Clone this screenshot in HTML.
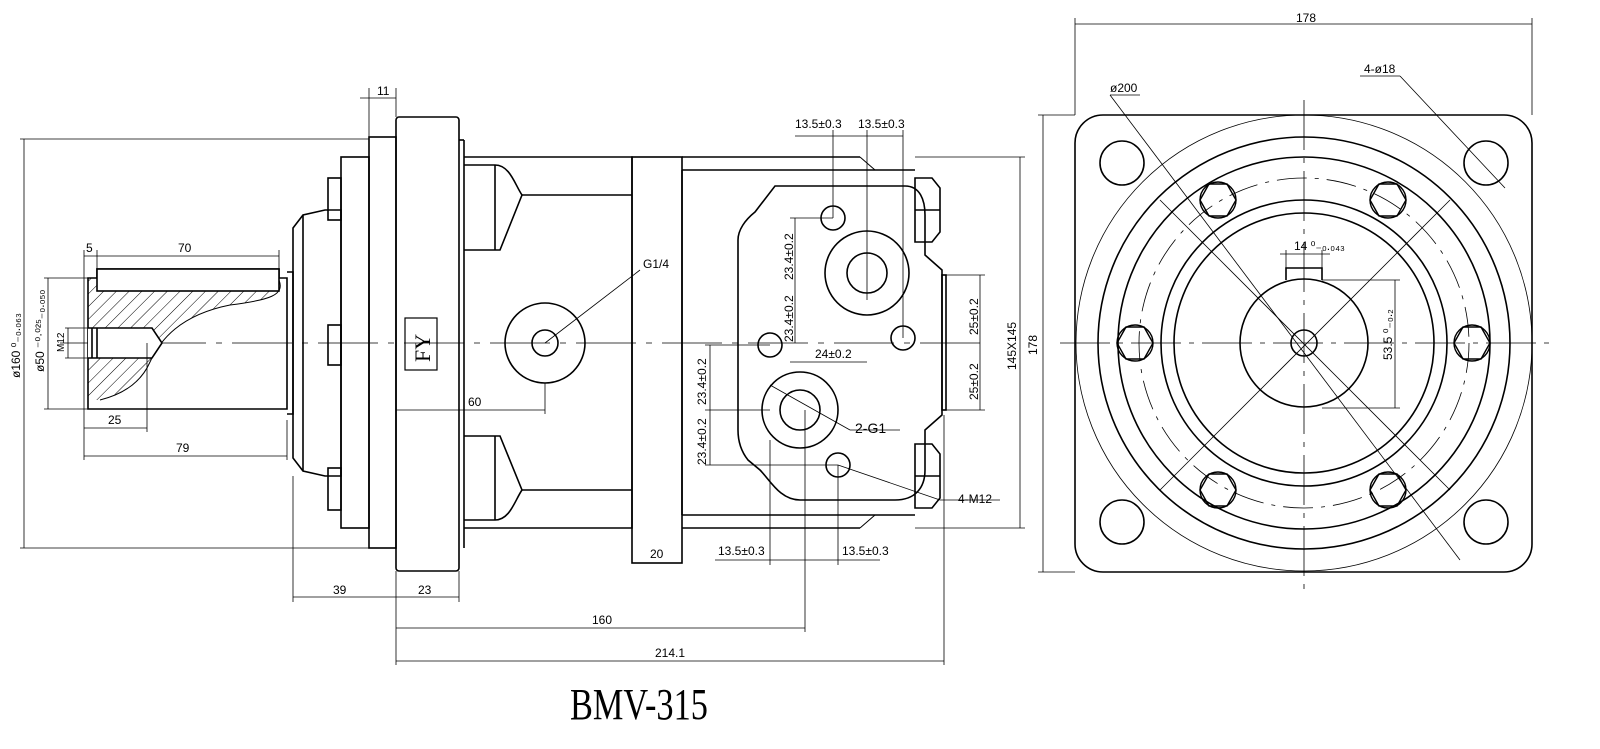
<!DOCTYPE html>
<html><head><meta charset="utf-8"><style>
html,body{margin:0;padding:0;background:#fff;overflow:hidden;}
svg{display:block;}
text{font-family:"Liberation Sans Narrow","Liberation Sans",sans-serif;font-size:12px;fill:#000;}
</style></head><body>
<svg width="1600" height="749" viewBox="0 0 1600 749" xmlns="http://www.w3.org/2000/svg">
<defs>
<pattern id="h" width="9" height="9" patternUnits="userSpaceOnUse" patternTransform="rotate(45)">
<line x1="0" y1="0" x2="0" y2="9" stroke="#000" stroke-width="1"/></pattern>
</defs>
<g fill="none" stroke="#000" stroke-width="1.6">
<line x1="60" y1="343" x2="990" y2="343" stroke-width="0.8" stroke-dasharray="60,10,6,10"/>
<!-- shaft -->
<path d="M88 278 H97 V291 H279 V280 C285 295 270 300 230 305 C180 315 160 340 150 362 C140 385 120 395 100 400 L88 400 Z" fill="url(#h)" stroke="none"/>
<path d="M279 280 C285 295 270 300 230 305 C180 315 160 340 150 362 C140 385 120 395 100 400" stroke-width="1"/>
<path d="M88 278 H97 V269 H279 V278 H287 V409 H88 Z" />
<rect x="97" y="269" width="182" height="22" fill="#fff"/>
<path d="M88 328 H152 L162 343 L152 358 H88" fill="#fff"/>
<line x1="92" y1="328" x2="92" y2="358"/>
<line x1="97" y1="328" x2="97" y2="358"/>
<!-- cap -->
<path d="M287 272 H293 V414 H287"/>
<path d="M293 228 L303 215 L325 210 H341 V476 H325 L303 471 L293 458 Z"/>
<line x1="303" y1="215" x2="303" y2="471"/>
<rect x="328" y="178" width="13" height="42"/><rect x="328" y="325" width="13" height="40"/><rect x="328" y="468" width="13" height="42"/>
<rect x="341" y="157" width="28" height="371"/>
<rect x="369" y="137" width="27" height="411"/>
<rect x="396" y="117" width="63" height="454" rx="3"/>
<line x1="459" y1="140" x2="464" y2="140"/><line x1="464" y1="140" x2="464" y2="548"/>
<rect x="405" y="318" width="32" height="52" stroke-width="1.2"/>
<!-- body -->
<path d="M464 157 H632 V528 H464"/>
<path d="M464 165 H495 C510 165 515 185 522 195 L500 250 H464"/>
<path d="M464 436 H500 L522 490 C515 500 510 520 495 520 H464"/>
<line x1="495" y1="165" x2="495" y2="250"/><line x1="495" y1="436" x2="495" y2="520"/>
<line x1="522" y1="195" x2="632" y2="195"/><line x1="522" y1="490" x2="632" y2="490"/>
<rect x="632" y="157" width="50" height="406"/>
<path d="M682 170 H915 M682 515 H915 M682 170 V515"/>
<path d="M860 157 L875 170 M860 528 L875 515" stroke-width="1"/>
<line x1="682" y1="157" x2="860" y2="157"/><line x1="682" y1="528" x2="860" y2="528"/>
<path d="M775 186 H905 C920 186 925 200 925 215 V255 L942 270 V415 L925 430 V470 C925 488 915 500 895 500 H800 C780 500 770 480 760 470 L748 460 C740 450 738 440 738 430 V240 C738 230 745 220 755 212 Z"/>
<path d="M915 178 H932 L940 188 V232 L932 242 H915 Z"/><line x1="915" y1="210" x2="940" y2="210"/>
<path d="M915 444 H932 L940 454 V498 L932 508 H915 Z"/><line x1="915" y1="476" x2="940" y2="476"/>
<rect x="942" y="275" width="4" height="135"/>
<circle cx="545" cy="343" r="40"/><circle cx="545" cy="343" r="13"/>
<circle cx="867" cy="273" r="42"/><circle cx="867" cy="273" r="20"/>
<circle cx="800" cy="410" r="38"/><circle cx="800" cy="410" r="20"/>
<circle cx="833" cy="218" r="12"/><circle cx="770" cy="345" r="12"/><circle cx="903" cy="338" r="12"/><circle cx="838" cy="465" r="12"/>
</g>
<text x="0" y="0" transform="translate(430,362) rotate(-90)" style="font-family:'Liberation Serif',serif;font-size:22px">FY</text>
<g stroke="#000" stroke-width="0.8" fill="none">
<line x1="20" y1="139" x2="369" y2="139"/><line x1="20" y1="548" x2="369" y2="548"/><line x1="24" y1="139" x2="24" y2="548"/>
<line x1="44" y1="278" x2="88" y2="278"/><line x1="44" y1="409" x2="88" y2="409"/><line x1="48" y1="278" x2="48" y2="409"/>
<line x1="65" y1="328" x2="88" y2="328"/><line x1="65" y1="358" x2="88" y2="358"/><line x1="68" y1="328" x2="68" y2="358"/>
<line x1="84" y1="250" x2="84" y2="460"/><line x1="97" y1="250" x2="97" y2="269"/><line x1="279" y1="250" x2="279" y2="269"/>
<line x1="84" y1="256" x2="279" y2="256"/>
<line x1="147" y1="343" x2="147" y2="432"/><line x1="84" y1="428" x2="147" y2="428"/>
<line x1="287" y1="420" x2="287" y2="460"/><line x1="84" y1="456" x2="287" y2="456"/>
<line x1="369" y1="88" x2="369" y2="137"/><line x1="396" y1="88" x2="396" y2="117"/><line x1="360" y1="98" x2="396" y2="98"/>
<line x1="293" y1="476" x2="293" y2="602"/><line x1="396" y1="571" x2="396" y2="665"/><line x1="459" y1="571" x2="459" y2="602"/>
<line x1="293" y1="597" x2="459" y2="597"/>
<line x1="396" y1="628" x2="805" y2="628"/><line x1="805" y1="410" x2="805" y2="632"/>
<line x1="396" y1="661" x2="944" y2="661"/><line x1="944" y1="415" x2="944" y2="665"/>
<line x1="396" y1="410" x2="545" y2="410"/><line x1="545" y1="383" x2="545" y2="414"/>
<line x1="632" y1="563" x2="682" y2="563"/>
<line x1="915" y1="157" x2="1025" y2="157"/><line x1="915" y1="528" x2="1025" y2="528"/><line x1="1020" y1="157" x2="1020" y2="528"/>
<line x1="945" y1="275" x2="985" y2="275"/><line x1="945" y1="410" x2="985" y2="410"/><line x1="980" y1="275" x2="980" y2="410"/>
<line x1="833" y1="130" x2="833" y2="218"/><line x1="867" y1="130" x2="867" y2="300"/><line x1="903" y1="130" x2="903" y2="338"/>
<line x1="795" y1="136" x2="903" y2="136"/>
<line x1="790" y1="218" x2="833" y2="218"/><line x1="795" y1="218" x2="795" y2="343"/>
<line x1="705" y1="345" x2="770" y2="345"/><line x1="705" y1="410" x2="770" y2="410"/><line x1="705" y1="465" x2="838" y2="465"/>
<line x1="710" y1="345" x2="710" y2="465"/>
<line x1="790" y1="362" x2="867" y2="362"/>
<line x1="770" y1="440" x2="770" y2="565"/><line x1="838" y1="465" x2="838" y2="565"/>
<line x1="715" y1="560" x2="880" y2="560"/>
<line x1="545" y1="343" x2="640" y2="270"/>
<line x1="770" y1="385" x2="850" y2="430"/><line x1="850" y1="430" x2="900" y2="430"/>
<line x1="838" y1="465" x2="940" y2="500"/><line x1="940" y1="500" x2="1000" y2="500"/>
</g>
<g>
<text x="0" y="0" transform="translate(20,378) rotate(-90)">ø160 ⁰₋₀.₀₆₃</text>
<text x="0" y="0" transform="translate(44,372) rotate(-90)">ø50 ⁻⁰·⁰²⁵₋₀.₀₅₀</text>
<text x="0" y="0" transform="translate(64,352) rotate(-90)" style="font-size:10px">M12</text>
<text x="86" y="252">5</text><text x="178" y="252">70</text>
<text x="108" y="424">25</text><text x="176" y="452">79</text>
<text x="377" y="95">11</text>
<text x="333" y="594">39</text><text x="418" y="594">23</text>
<text x="592" y="624">160</text><text x="655" y="657">214.1</text>
<text x="468" y="406">60</text><text x="650" y="558">20</text>
<text x="643" y="268">G1/4</text>
<text x="795" y="128">13.5±0.3</text><text x="858" y="128">13.5±0.3</text>
<text x="718" y="555">13.5±0.3</text><text x="842" y="555">13.5±0.3</text>
<text x="815" y="358">24±0.2</text>
<text x="855" y="433" style="font-size:14px">2-G1</text>
<text x="958" y="503">4-M12</text>
<text x="0" y="0" transform="translate(793,280) rotate(-90)">23.4±0.2</text>
<text x="0" y="0" transform="translate(793,342) rotate(-90)">23.4±0.2</text>
<text x="0" y="0" transform="translate(706,405) rotate(-90)">23.4±0.2</text>
<text x="0" y="0" transform="translate(706,465) rotate(-90)">23.4±0.2</text>
<text x="0" y="0" transform="translate(978,335) rotate(-90)">25±0.2</text>
<text x="0" y="0" transform="translate(978,400) rotate(-90)">25±0.2</text>
<text x="0" y="0" transform="translate(1016,370) rotate(-90)">145X145</text>
<text x="0" y="0" transform="translate(1037,355) rotate(-90)">178</text>
</g>
<g fill="none" stroke="#000" stroke-width="1.6">
<rect x="1075" y="115" width="457" height="457" rx="28"/>
<circle cx="1304" cy="343" r="206"/><circle cx="1304" cy="343" r="186"/>
<circle cx="1304" cy="343" r="143"/><circle cx="1304" cy="343" r="130"/>
<circle cx="1304" cy="343" r="64"/><circle cx="1304" cy="343" r="13"/>
<circle cx="1122" cy="163" r="22"/><circle cx="1486" cy="163" r="22"/><circle cx="1122" cy="522" r="22"/><circle cx="1486" cy="522" r="22"/>
<g stroke-width="1.4">
<circle cx="1218" cy="200" r="18"/><polygon points="1200,200 1209,184 1227,184 1236,200 1227,216 1209,216"/>
<circle cx="1388" cy="200" r="18"/><polygon points="1370,200 1379,184 1397,184 1406,200 1397,216 1379,216"/>
<circle cx="1218" cy="490" r="18"/><polygon points="1200,490 1209,474 1227,474 1236,490 1227,506 1209,506"/>
<circle cx="1388" cy="490" r="18"/><polygon points="1370,490 1379,474 1397,474 1406,490 1397,506 1379,506"/>
<circle cx="1135" cy="343" r="18"/><polygon points="1117,343 1126,327 1144,327 1153,343 1144,359 1126,359"/>
<circle cx="1472" cy="343" r="18"/><polygon points="1454,343 1463,327 1481,327 1490,343 1481,359 1463,359"/>
</g>
<path d="M1286 280 V268 H1322 V280"/>
</g>
<g fill="none" stroke="#000" stroke-width="0.8">
<circle cx="1304" cy="343" r="228"/>
<circle cx="1304" cy="343" r="165" stroke-dasharray="30,8,4,8"/>
<line x1="1060" y1="343" x2="1555" y2="343" stroke-dasharray="50,8,5,8"/>
<line x1="1304" y1="100" x2="1304" y2="590" stroke-dasharray="50,8,5,8"/>
<line x1="1075" y1="18" x2="1075" y2="115"/><line x1="1532" y1="18" x2="1532" y2="115"/><line x1="1075" y1="24" x2="1532" y2="24"/>
<line x1="1038" y1="115" x2="1075" y2="115"/><line x1="1038" y1="572" x2="1075" y2="572"/><line x1="1043" y1="115" x2="1043" y2="572"/>
<line x1="1110" y1="95" x2="1460" y2="560"/><line x1="1110" y1="95" x2="1140" y2="95"/>
<line x1="1400" y1="76" x2="1505" y2="188"/><line x1="1360" y1="76" x2="1400" y2="76"/>
<line x1="1160" y1="200" x2="1450" y2="490"/><line x1="1160" y1="490" x2="1450" y2="200"/>
<line x1="1322" y1="280" x2="1400" y2="280"/><line x1="1322" y1="408" x2="1400" y2="408"/><line x1="1395" y1="280" x2="1395" y2="408"/>
<line x1="1286" y1="250" x2="1286" y2="268"/><line x1="1322" y1="250" x2="1322" y2="268"/><line x1="1280" y1="254" x2="1330" y2="254"/>
</g>
<text x="1296" y="22">178</text>
<text x="1110" y="92">ø200</text>
<text x="1364" y="73">4-ø18</text>
<text x="1294" y="250">14 ⁰₋₀.₀₄₃</text>
<text x="0" y="0" transform="translate(1392,360) rotate(-90)">53.5 ⁰₋₀.₂</text>
<text x="570" y="719" style="font-family:'Liberation Serif',serif;font-size:44px" transform="translate(570,0) scale(0.78,1) translate(-570,0)">BMV-315</text>
</svg>
</body></html>
